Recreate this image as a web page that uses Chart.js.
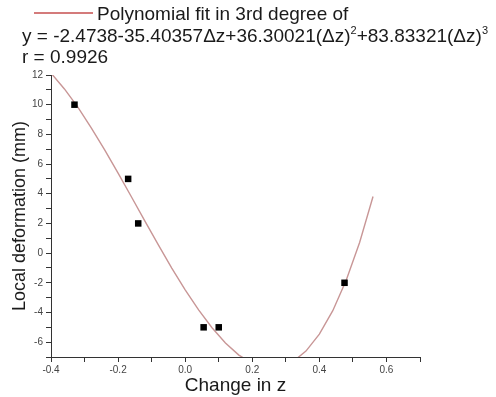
<!DOCTYPE html>
<html>
<head>
<meta charset="utf-8">
<script src="https://cdn.jsdelivr.net/npm/chart.js@4"></script>
<style>
  html, body { margin: 0; padding: 0; background: #fff; }
  #wrap { position: relative; width: 496px; height: 397px; overflow: hidden; font-family: Arial, "Liberation Sans", sans-serif; color: #1a1a1a; }
  #wrap canvas { position: absolute; left: 0; top: 0; }
  .hdr { position: absolute; font-size: 19px; white-space: nowrap; line-height: 1; }
  .hdr sup { font-size: 11px; vertical-align: 8px; line-height: 0; }
  #legLine { position: absolute; left: 34px; top: 12px; width: 59px; height: 2px; background: rgba(205,100,100,0.85); }
</style>
</head>
<body>
<div id="wrap">
  <canvas id="grafico" width="496" height="397"></canvas>
  <div id="legLine"></div>
  <div class="hdr" style="left:97px; top:4px;">Polynomial fit in 3rd degree of</div>
  <div class="hdr" style="left:22px; top:26px;">y = -2.4738-35.40357Δz+36.30021(Δz)<sup>2</sup>+83.83321(Δz)<sup>3</sup></div>
  <div class="hdr" style="left:22px; top:47px;">r = 0.9926</div>
</div>
<script>
// measured points
const pontosX = [-0.33, -0.17, -0.14, 0.055, 0.10, 0.475];
const pontosY = [10, 5, 2, -5, -5, -2];

// fitted curve
const curvaX = [-0.40, -0.36, -0.32, -0.28, -0.24, -0.20, -0.16, -0.12, -0.08, -0.04, 0.00, 0.04, 0.08, 0.12, 0.16, 0.20, 0.24, 0.28, 0.32, 0.36, 0.40, 0.44, 0.48, 0.52, 0.56];
const curvaY = [12.13, 11.06, 9.83, 8.44, 6.96, 5.39, 3.78, 2.15, 0.55, -1.01, -2.47, -3.83, -5.03, -6.05, -6.87, -7.43, -7.72, -7.70, -7.34, -6.60, -5.46, -3.88, -1.83, 0.72, 3.81];

const xLabels = [-0.4, -0.2, 0.0, 0.2, 0.4, 0.6];
const yLabels = [-6, -4, -2, 0, 2, 4, 6, 8, 10, 12];

function juntar(xs, ys){
    let out = [];
    xs.forEach(function(v, i){
        out.push({x: v, y: ys[i]});
    });
    return out;
}

const ctx = document.getElementById('grafico').getContext('2d');

new Chart(ctx, {
    type: 'scatter',
    data: {
        datasets: [{
            label: 'Polynomial fit',
            data: juntar(curvaX, curvaY),
            showLine: true,
            borderColor: 'rgb(200,150,150)',
            borderWidth: 1.4,
            pointRadius: 0,
            tension: 0,
            order: 2
        }, {
            label: 'Data',
            data: juntar(pontosX, pontosY),
            pointStyle: 'rect',
            pointRadius: 4.6,
            backgroundColor: '#000',
            borderColor: '#000',
            borderWidth: 0,
            order: 1
        }]
    },
    options: {
        responsive: false,
        animation: false,
        layout: { padding: { left: 0, top: 75, right: 76, bottom: 0 } },
        plugins: { legend: { display: false }, tooltip: { enabled: false } },
        scales: {
            x: {
                type: 'linear',
                min: -0.4,
                max: 0.7,
                afterFit: function(scale){ scale.height = 40; },
                border: { display: true, color: '#333', width: 1 },
                grid: { drawOnChartArea: false, tickLength: 5, tickColor: '#333' },
                ticks: {
                    stepSize: 0.1,
                    autoSkip: false,
                    maxRotation: 0,
                    padding: 2,
                    color: '#444',
                    font: { family: 'Arial', size: 10 },
                    callback: function(v){
                        const r = Math.round(v * 10) / 10;
                        return xLabels.some(function(l){ return Math.abs(l - r) < 1e-6; }) ? r.toFixed(1) : '';
                    }
                },
                title: {
                    display: true,
                    text: 'Change in z',
                    color: '#1a1a1a',
                    font: { family: 'Arial', size: 19 },
                    padding: { top: 0, bottom: 0 }
                }
            },
            y: {
                min: -7,
                max: 12,
                afterFit: function(scale){ scale.width = 51; },
                border: { display: true, color: '#333', width: 1 },
                grid: { drawOnChartArea: false, tickLength: 5, tickColor: '#333' },
                ticks: {
                    stepSize: 1,
                    autoSkip: false,
                    padding: 3,
                    color: '#444',
                    font: { family: 'Arial', size: 10 },
                    callback: function(v){
                        return yLabels.indexOf(v) >= 0 ? String(v) : '';
                    }
                },
                title: {
                    display: true,
                    text: 'Local deformation (mm)',
                    color: '#1a1a1a',
                    font: { family: 'Arial', size: 18 },
                    padding: { top: 9, bottom: 0 }
                }
            }
        }
    }
});
</script>
</body>
</html>
